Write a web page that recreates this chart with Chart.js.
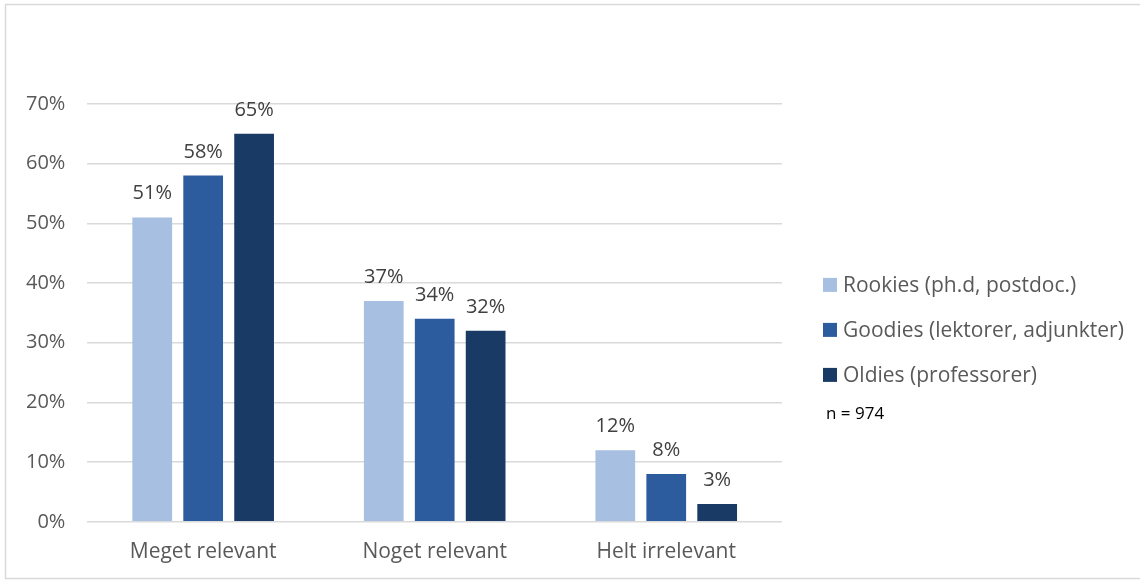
<!DOCTYPE html>
<html lang="da">
<head>
    <meta charset="UTF-8">
    <title>Relevans</title>
    <script src="https://cdn.jsdelivr.net/npm/chart.js@4.4.0/dist/chart.umd.min.js"></script>
    <style>
        html, body { margin: 0; padding: 0; background: #fff; }
        #wrap { width: 1140px; height: 580px; position: relative; }
    </style>
</head>
<body>
<div id="wrap"><canvas id="chart"></canvas></div>
<script>
    var categories = ["Meget relevant", "Noget relevant", "Helt irrelevant"];
    var rookies = [51, 37, 12];
    var goodies = [58, 34, 8];
    var oldies = [65, 32, 3];
    var seriesNames = ["Rookies (ph.d, postdoc.)", "Goodies (lektorer, adjunkter)", "Oldies (professorer)"];
    var seriesColors = ["#a7bfe1", "#2d5c9e", "#1a3a66"];
    var noteText = "n = 974";

    var FONT = "'Open Sans', sans-serif";

    // value labels, side legend, n note and the outer frame
    var extras = {
        id: "extras",
        afterDatasetsDraw: function(chart) {
            var c = chart.ctx;
            c.save();
            c.font = "20px " + FONT;
            c.fillStyle = "#404040";
            c.textAlign = "center";
            c.textBaseline = "alphabetic";
            chart.data.datasets.forEach(function(ds, i) {
                chart.getDatasetMeta(i).data.forEach(function(bar, j) {
                    c.fillText(ds.data[j] + "%", bar.x, bar.y - 18);
                });
            });
            c.restore();
        },
        afterDraw: function(chart) {
            var c = chart.ctx;
            var area = chart.chartArea;
            c.save();
            c.strokeStyle = "#d9d9d9";
            c.lineWidth = 1.5;
            c.strokeRect(5.5, 4.5, 1140, 574);

            // legend (built-in one gets squeezed to half the width)
            var x0 = area.right + 41;
            var yMid = (area.top + area.bottom) / 2 + 17;
            c.font = "21px " + FONT;
            c.textAlign = "left";
            c.textBaseline = "middle";
            chart.data.datasets.forEach(function(ds, i) {
                var y = yMid + (i - 1) * 45;
                c.fillStyle = ds.backgroundColor;
                c.fillRect(x0, y - 7, 14, 14);
                c.fillStyle = "#595959";
                c.fillText(ds.label, x0 + 20, y + 1);
            });
            c.font = "17px " + FONT;
            c.fillStyle = "#000";
            c.fillText(noteText, x0 + 3, yMid + 84);
            c.restore();
        }
    };

    new Chart(document.getElementById("chart"), {
        type: "bar",
        data: {
            labels: categories,
            datasets: [
                { label: seriesNames[0], data: rookies, backgroundColor: seriesColors[0] },
                { label: seriesNames[1], data: goodies, backgroundColor: seriesColors[1] },
                { label: seriesNames[2], data: oldies, backgroundColor: seriesColors[2] }
            ]
        },
        options: {
            responsive: true,
            maintainAspectRatio: false,
            animation: false,
            categoryPercentage: 0.66,
            barPercentage: 0.78,
            layout: { padding: { top: 104, bottom: -3, left: 4, right: 358 } },
            plugins: {
                tooltip: { enabled: false },
                legend: { display: false }
            },
            scales: {
                x: {
                    grid: { display: false, drawTicks: false },
                    border: { display: false },
                    ticks: { color: "#595959", font: { family: FONT, size: 21 }, padding: 18, maxRotation: 0, minRotation: 0 }
                },
                y: {
                    min: 0,
                    max: 70,
                    ticks: {
                        stepSize: 10,
                        color: "#595959",
                        padding: 22,
                        font: { family: FONT, size: 20 },
                        callback: function(v) { return v + "%"; }
                    },
                    grid: { color: "#d9d9d9", lineWidth: 1.5, drawTicks: false },
                    border: { display: false }
                }
            }
        },
        plugins: [extras]
    });
</script>
</body>
</html>
